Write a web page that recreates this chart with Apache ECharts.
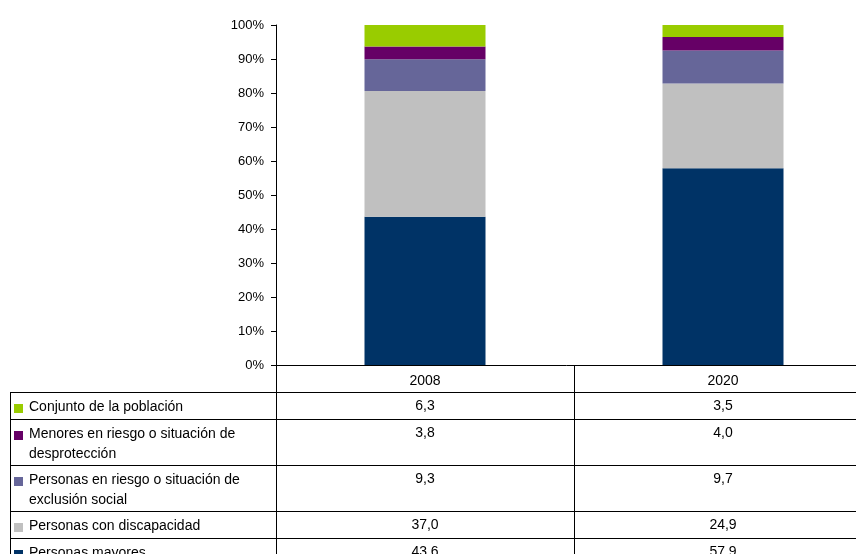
<!DOCTYPE html>
<html lang="es">
<head>
<meta charset="utf-8">
<title>Colectivos 2008 - 2020</title>
<script src="https://cdn.jsdelivr.net/npm/echarts@6/dist/echarts.min.js"></script>
<style>
  html, body { margin: 0; padding: 0; background: #fff; }
  #main { width: 856px; height: 554px; }
</style>
</head>
<body>
<div id="main"></div>
<script>
// datos (orden de apilado, de abajo arriba)
var years = ['2008', '2020'];
var groups = [
  'Personas mayores',
  'Personas con discapacidad',
  'Personas en riesgo o situación de exclusión social',
  'Menores en riesgo o situación de desprotección',
  'Conjunto de la población'
];
var values2008 = [43.6, 37.0, 9.3, 3.8, 6.3];
var values2020 = [57.9, 24.9, 9.7, 4.0, 3.5];
var yMax = 100;
var yStep = 10;

var colors = ['#003366', '#C0C0C0', '#666699', '#660066', '#99CC00'];
var FONT = '"Liberation Sans", Arial, sans-serif';

var grid = {left: 276, top: 25, width: 596, height: 340};
var tableLeft = 10;
var labelX = 29;
var headerH = 27;
var rowH = 27;
var lineH = 19;
var labelWidth = 236;

function fmt(v) {
    return v.toFixed(1).replace('.', ',');
}

// parte el texto en lineas que quepan en la columna
var ctx = document.createElement('canvas').getContext('2d');
ctx.font = '14px ' + FONT;
function wrap(text) {
    var words = text.split(' '), lines = [], cur = '';
    words.forEach(function (w) {
        var t = cur ? cur + ' ' + w : w;
        if (cur && ctx.measureText(t).width > labelWidth) {
            lines.push(cur);
            cur = w;
        } else {
            cur = t;
        }
    });
    lines.push(cur);
    return lines;
}

var chart = echarts.init(document.getElementById('main'));

var series = groups.map(function (name, i) {
    return {
        name: name,
        type: 'bar',
        stack: 'total',
        barWidth: 121,
        silent: true,
        itemStyle: {color: colors[i]},
        data: [values2008[i], values2020[i]]
    };
});

// tabla de datos bajo el eje
var gBottom = grid.top + grid.height;
var bandW = grid.width / years.length;
var right = 856;
var elements = [];
function hline(y, x1, x2) {
    y = Math.round(y) + 0.5;
    elements.push({type: 'line', silent: true, shape: {x1: x1, y1: y, x2: x2, y2: y},
        style: {stroke: '#000', lineWidth: 1}});
}
function vline(x, y1, y2) {
    x = Math.round(x) + 0.5;
    elements.push({type: 'line', silent: true, shape: {x1: x, y1: y1, x2: x, y2: y2},
        style: {stroke: '#000', lineWidth: 1}});
}

var y = gBottom + headerH;
hline(y, tableLeft, right);
for (var r = groups.length - 1; r >= 0; r--) {
    var lines = wrap(groups[r]);
    var h = rowH + lineH * (lines.length - 1);
    elements.push({type: 'rect', silent: true,
        shape: {x: tableLeft + 4, y: y + 12, width: 9, height: 9},
        style: {fill: colors[r]}});
    lines.forEach(function (ln, k) {
        elements.push({type: 'text', silent: true, x: labelX, y: y + 15 + k * 20,
            style: {text: ln, font: '14px ' + FONT, fill: '#000', verticalAlign: 'middle'}});
    });
    [values2008, values2020].forEach(function (vals, c) {
        elements.push({type: 'text', silent: true, x: grid.left + bandW * (c + 0.5), y: y + 14,
            style: {text: fmt(vals[r]), font: '14px ' + FONT, fill: '#000', align: 'center', verticalAlign: 'middle'}});
    });
    y += h;
    hline(y, tableLeft, right);
}
vline(tableLeft, gBottom + headerH, 554);
for (var c = 0; c <= years.length; c++) {
    vline(grid.left + bandW * c, gBottom, 554);
}

var option = {
    backgroundColor: '#fff',
    animation: false,
    textStyle: {fontFamily: FONT},
    grid: {left: grid.left, top: grid.top, width: grid.width, height: grid.height,
        containLabel: false, outerBoundsMode: 'none'},
    xAxis: {
        type: 'category',
        data: years,
        axisLine: {lineStyle: {color: '#000', width: 1}},
        axisTick: {show: false},
        axisLabel: {color: '#000', fontSize: 14, margin: 9}
    },
    yAxis: {
        type: 'value',
        min: 0,
        max: yMax,
        interval: yStep,
        axisLine: {show: true, lineStyle: {color: '#000', width: 1}},
        axisTick: {show: true, length: 5, lineStyle: {color: '#000'}},
        splitLine: {show: false},
        axisLabel: {color: '#000', fontSize: 13, margin: 12, formatter: '{value}%'}
    },
    series: series,
    graphic: {elements: elements}
};

chart.setOption(option);
</script>
</body>
</html>
